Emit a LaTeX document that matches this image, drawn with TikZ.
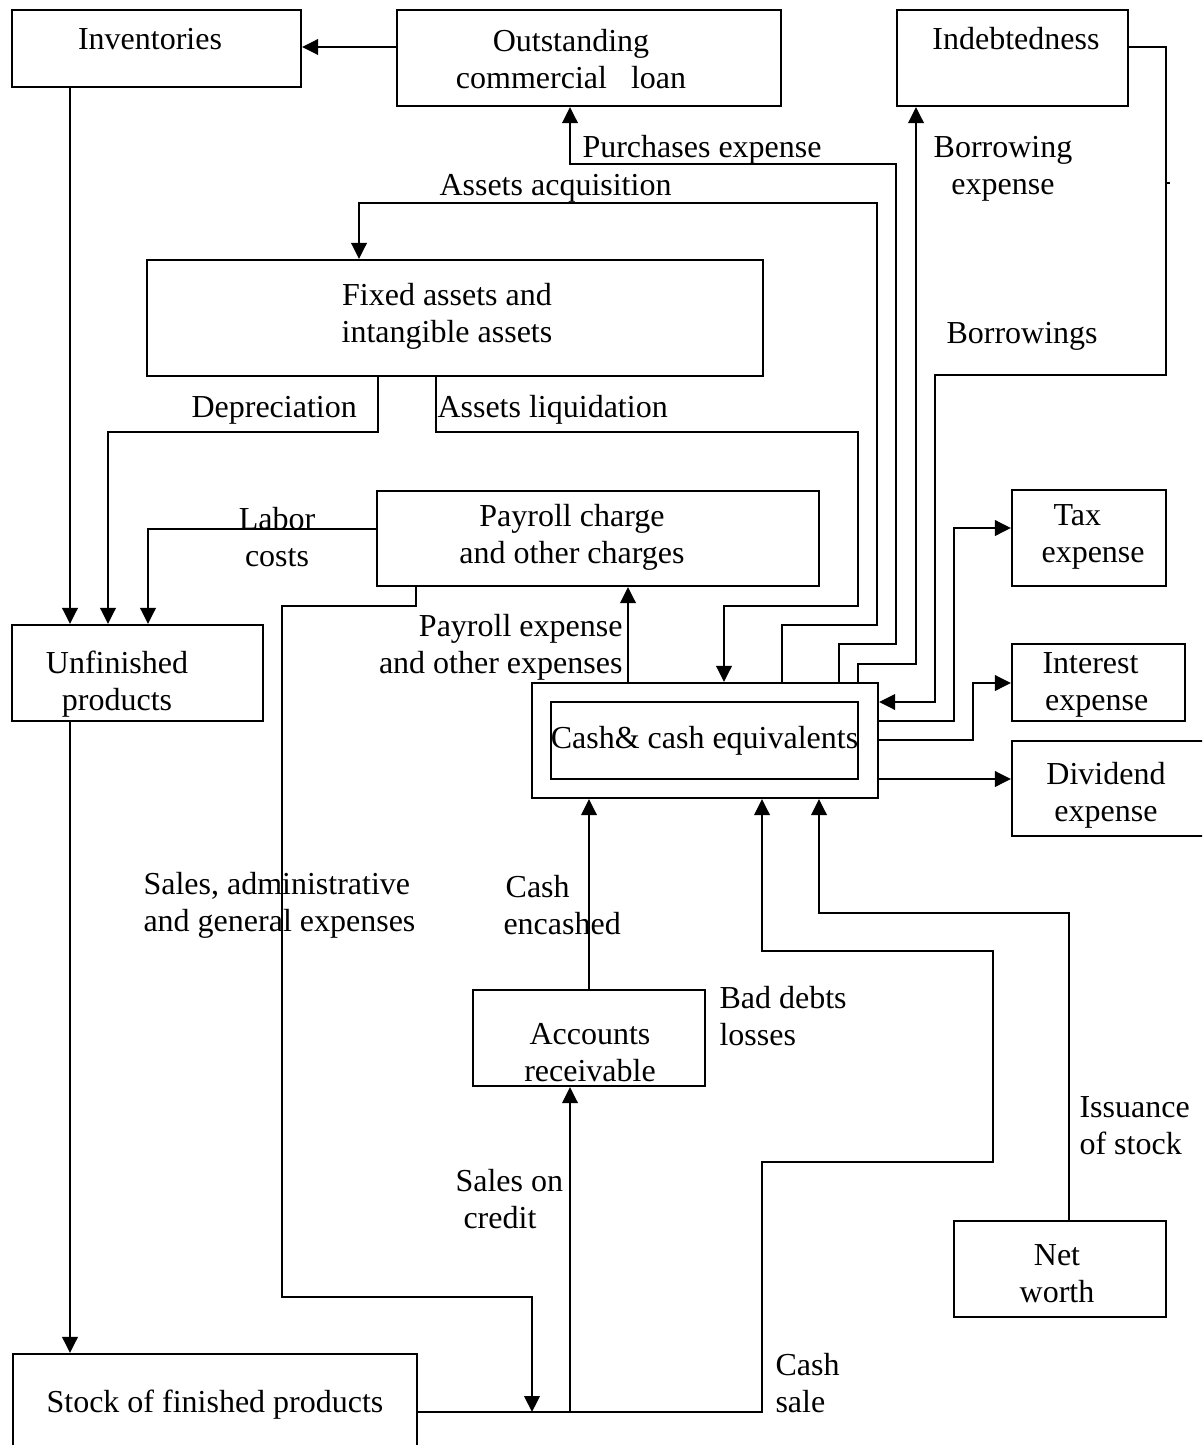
\documentclass[tikz,border=0pt]{standalone}
\usepackage{fontspec}
\setmainfont{Liberation Serif}
\usetikzlibrary{arrows.meta,fit}
\begin{document}
\begin{tikzpicture}[x=0.375pt,y=-0.375pt,
  every node/.style={font=\fontsize{12pt}{13.9pt}\selectfont},
  box/.style={draw, line width=0.8pt, inner sep=0pt},
  txt/.style={inner sep=0pt, align=center},
  conn/.style={line width=0.85pt},
  arr/.style={conn, -{Triangle[length=6pt,width=5.8pt]}}]
\useasboundingbox (0,0) rectangle (1202,1445);
\clip (0,0) rectangle (1202,1445);

% boxes
\node[box, fit={(12,10) (301,87)}] (inv) {};
\node[box, fit={(397,10) (781,106)}] (loan) {};
\node[box, fit={(897,10) (1128,106)}] (indebt) {};
\node[box, fit={(147,260) (763,376)}] (fixed) {};
\node[box, fit={(377,491) (819,586)}] (payroll) {};
\node[box, fit={(1012,490) (1166,586)}] (tax) {};
\node[box, fit={(12,625) (263,721)}] (unf) {};
\node[box, fit={(532,683) (878,798)}] (cash) {};
\node[box, fit={(551,702) (858,779)}] (cashin) {};
\node[box, fit={(1012,644) (1185,721)}] (interest) {};
\node[box, fit={(1012,741) (1215,836)}] (dividend) {};
\node[box, fit={(473,990) (705,1086)}] (acc) {};
\node[box, fit={(954,1221) (1166,1317)}] (net) {};
\node[box, fit={(13,1354) (417,1470)}] (stock) {};

% box texts
\node[txt, anchor=base] (tinv) at (150,50) {Inventories};
\node[txt] (tloan) at (571,59) {Outstanding\\commercial\ \ \ loan};
\node[txt, anchor=base] (tindebt) at (1016,50) {Indebtedness};
\node[txt] (tfixed) at (447,316.5) {Fixed assets and\\intangible assets};
\node[txt] (tpayroll) at (572,537) {Payroll charge\\and other charges};
\node[txt, align=left, anchor=west] (ttax) at (1041,537) {\hspace{4.5pt}Tax\\expense};
\node[txt] (tunf) at (117,684.5) {Unfinished\\products};
\node[txt, anchor=base] (tcash) at (704.5,748) {Cash\& cash equivalents};
\node[txt, align=left, anchor=west] (tint) at (1042,684.5) {Interest\\\hspace{1pt}expense};
\node[txt] (tdiv) at (1106,795) {Dividend\\expense};
\node[txt] (tacc) at (590,1053) {Accounts\\receivable};
\node[txt] (tnet) at (1057,1273.5) {Net\\worth};
\node[txt, anchor=base] (tstock) at (215,1412) {Stock of finished products};

% connector labels
\node[txt, anchor=base west] (lpur) at (582,158) {Purchases expense};
\node[txt, anchor=base west] (lacq) at (439,195) {Assets acquisition};
\node[txt] (lborexp) at (1003,168.5) {Borrowing\\expense};
\node[txt, anchor=base west] (lbor) at (946,343) {Borrowings};
\node[txt, anchor=base west] (ldep) at (191,417) {Depreciation};
\node[txt, anchor=base west] (lliq) at (437,417) {Assets liquidation};
\node[txt] (llab) at (277,537) {Labor\\costs};
\node[txt, align=right, anchor=east] (lpay) at (623,647.5) {Payroll expense\hspace{3pt}\\and other expenses};
\node[txt, align=left, anchor=west] (lsag) at (143,905) {Sales, administrative\\and general expenses};
\node[txt, align=left, anchor=west] (lenc) at (503,905) {\hspace{0.8pt}Cash\\encashed};
\node[txt, align=left, anchor=west] (lbad) at (719,1016) {Bad debts\\losses};
\node[txt, align=left, anchor=west] (liss) at (1079,1126) {Issuance\\of stock};
\node[txt, align=left, anchor=west] (lcred) at (455,1199) {Sales on\\\hspace{3pt}credit};
\node[txt, align=left, anchor=west] (lsale) at (775,1383) {Cash\\sale};

% join points on the bottom line
\coordinate (salesjoin) at (532,1412);
\coordinate (creditjoin) at (570,1412);

% connectors
\draw[arr] (loan.west |- 0,47) -- (inv.east |- 0,47);
\draw[arr] (inv.south -| 70,0) -- (unf.north -| 70,0);
\draw[arr] (fixed.south -| 378,0) -- (378,432) -- (108,432) -- (unf.north -| 108,0);
\draw[arr] (payroll.west |- 0,529) -- (148,529) -- (unf.north -| 148,0);
\draw[arr] (unf.south -| 70,0) -- (stock.north -| 70,0);
\draw[arr] (fixed.south -| 436,0) -- (436,432) -- (858,432) -- (858,606) -- (724,606) -- (cash.north -| 724,0);
\draw[arr] (cash.north -| 782,0) -- (782,625) -- (877,625) -- (877,203) -- (359,203) -- (fixed.north -| 359,0);
\draw[arr] (cash.north -| 839,0) -- (839,644) -- (896,644) -- (896,164) -- (570,164) -- (loan.south -| 570,0);
\draw[arr] (cash.north -| 858,0) -- (858,664) -- (916,664) -- (indebt.south -| 916,0);
\draw[arr] (indebt.east |- 0,47) -- (1166,47) -- (1166,375) -- (935,375) -- (935,702) -- (cash.east |- 0,702);
\draw[conn, line width=0.5pt] (1166,183) -- (1170,183);
\draw[arr] (cash.east |- 0,721) -- (954,721) -- (954,528) -- (tax.west |- 0,528);
\draw[arr] (cash.east |- 0,740) -- (973,740) -- (973,683) -- (interest.west |- 0,683);
\draw[arr] (cash.east |- 0,779) -- (dividend.west |- 0,779);
\draw[arr] (cash.north -| 628,0) -- (payroll.south -| 628,0);
\draw[arr] (payroll.south -| 416,0) -- (416,606) -- (282,606) -- (282,1297) -- (532,1297) -- (salesjoin);
\draw[arr] (acc.north -| 589,0) -- (cash.south -| 589,0);
\draw[arr] (stock.east |- 0,1412) -- (762,1412) -- (762,1162) -- (993,1162) -- (993,951) -- (762,951) -- (cash.south -| 762,0);
\draw[arr] (creditjoin) -- (acc.south -| 570,0);
\draw[arr] (net.north -| 1069,0) -- (1069,913) -- (819,913) -- (cash.south -| 819,0);
\end{tikzpicture}
\end{document}
